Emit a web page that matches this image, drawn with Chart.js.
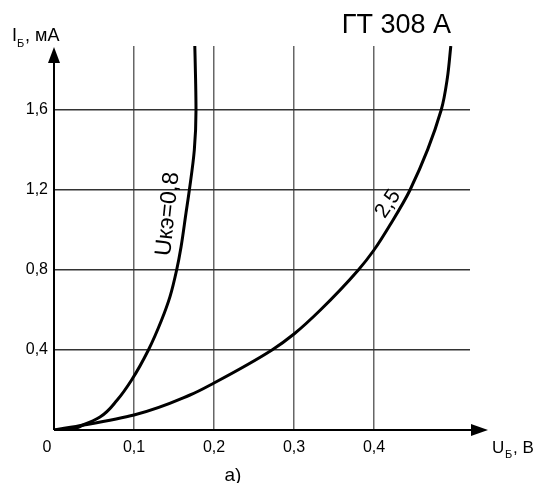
<!DOCTYPE html>
<html>
<head>
<meta charset="utf-8">
<script src="https://cdn.jsdelivr.net/npm/chart.js@4"></script>
<style>
  html, body { margin: 0; padding: 0; background: #fff; }
  #wrap { width: 537px; height: 483px; }
</style>
</head>
<body>
<div id="wrap"><canvas id="myChart" width="537" height="483"></canvas></div>
<script>
// data (U in V, I in mA)
const u08 = [0, 0.02, 0.036, 0.0575, 0.079, 0.097, 0.118, 0.1345, 0.145, 0.1533, 0.1588, 0.165, 0.1692, 0.1754, 0.1775, 0.177, 0.176];
const i08 = [0, 0.005, 0.025, 0.065, 0.15, 0.25, 0.4, 0.55, 0.667, 0.8, 0.915, 1.085, 1.2, 1.4, 1.6, 1.75, 1.92];
const u25 = [0, 0.0375, 0.1, 0.17, 0.2, 0.2725, 0.3, 0.333, 0.3804, 0.4, 0.42, 0.445, 0.484, 0.4917, 0.496];
const i25 = [0, 0.025, 0.075, 0.175, 0.235, 0.4, 0.48, 0.6, 0.8, 0.9, 1.025, 1.2, 1.6, 1.76, 1.92];
const xTicks = [0.1, 0.2, 0.3, 0.4];
const yTicks = [0.4, 0.8, 1.2, 1.6];
const curveLabels = ["Uкэ=0,8", "2,5"];

const FONT = "'Liberation Sans', Arial, sans-serif";

function pts(us, is) {
  return us.map((u, k) => ({ x: u, y: is[k] }));
}
function fmt(v) {
  return v.toFixed(1).replace(".", ",");
}

// axes with arrows, titles and curve captions
const decor = {
  id: "decor",
  afterDraw(chart) {
    const ctx = chart.ctx;
    const xs = chart.scales.x;
    const ys = chart.scales.y;
    const x0 = xs.getPixelForValue(0);
    const y0 = ys.getPixelForValue(0);
    const top = chart.chartArea.top;
    ctx.save();
    ctx.strokeStyle = "#000";
    ctx.fillStyle = "#000";
    ctx.lineWidth = 2;
    // x axis
    ctx.beginPath();
    ctx.moveTo(x0, y0);
    ctx.lineTo(474, y0);
    ctx.stroke();
    ctx.beginPath();
    ctx.moveTo(488, y0);
    ctx.lineTo(471, y0 - 6);
    ctx.lineTo(471, y0 + 6);
    ctx.closePath();
    ctx.fill();
    // y axis
    ctx.beginPath();
    ctx.moveTo(x0, y0);
    ctx.lineTo(x0, top + 14);
    ctx.stroke();
    ctx.beginPath();
    ctx.moveTo(x0, top + 1);
    ctx.lineTo(x0 - 6, top + 17);
    ctx.lineTo(x0 + 6, top + 17);
    ctx.closePath();
    ctx.fill();

    ctx.textBaseline = "alphabetic";
    // origin
    ctx.font = "16px " + FONT;
    ctx.textAlign = "center";
    ctx.fillText("0", x0 - 7, 452);
    // y title
    ctx.textAlign = "left";
    ctx.font = "18px " + FONT;
    ctx.fillText("I", 12, 41);
    ctx.font = "11px " + FONT;
    ctx.fillText("Б", 17, 47);
    ctx.font = "18px " + FONT;
    ctx.fillText(", мА", 25, 41);
    // x title
    ctx.font = "17px " + FONT;
    ctx.fillText("U", 492, 453);
    ctx.font = "11px " + FONT;
    ctx.fillText("Б", 505, 458);
    ctx.font = "17px " + FONT;
    ctx.fillText(", В", 513, 453);
    // caption below
    ctx.font = "19px " + FONT;
    ctx.textAlign = "center";
    ctx.fillText("а)", 233, 481);
    // model
    ctx.font = "27px " + FONT;
    ctx.textAlign = "right";
    ctx.fillText("ГТ 308 А", 451, 33);

    // curve captions
    ctx.textAlign = "center";
    ctx.textBaseline = "middle";
    ctx.save();
    ctx.translate(xs.getPixelForValue(0.1425), ys.getPixelForValue(1.08));
    ctx.rotate(-84 * Math.PI / 180);
    ctx.font = "23px " + FONT;
    ctx.fillText(curveLabels[0], 0, 0);
    ctx.restore();
    ctx.save();
    ctx.translate(xs.getPixelForValue(0.4175), ys.getPixelForValue(1.13));
    ctx.rotate(-56 * Math.PI / 180);
    ctx.font = "21px " + FONT;
    ctx.fillText(curveLabels[1], 0, 0);
    ctx.restore();
    ctx.restore();
  }
};

// curves are monotone in I, so interpolate along the y axis
const lineStyle = {
  borderColor: "#000",
  borderWidth: 3,
  cubicInterpolationMode: "monotone",
  pointRadius: 0,
  fill: false
};

new Chart(document.getElementById("myChart"), {
  type: "line",
  data: {
    datasets: [
      Object.assign({ data: pts(u08, i08) }, lineStyle),
      Object.assign({ data: pts(u25, i25) }, lineStyle)
    ]
  },
  options: {
    indexAxis: "y",
    responsive: false,
    animation: false,
    layout: { padding: { top: 46, right: 67, left: 0, bottom: 0 } },
    plugins: { legend: { display: false }, tooltip: { enabled: false } },
    scales: {
      x: {
        type: "linear",
        position: "bottom",
        min: 0,
        max: 0.52,
        afterFit(s) { s.height = 53; },
        afterBuildTicks(s) { s.ticks = xTicks.map(v => ({ value: v })); },
        border: { display: false },
        grid: { color: "#666", lineWidth: 1.5, drawTicks: false },
        ticks: {
          color: "#000",
          padding: 8,
          maxRotation: 0,
          font: { family: FONT, size: 16 },
          callback: v => fmt(v)
        }
      },
      y: {
        type: "linear",
        position: "left",
        min: 0,
        max: 1.92,
        afterFit(s) { s.width = 54; },
        afterBuildTicks(s) { s.ticks = yTicks.map(v => ({ value: v })); },
        border: { display: false },
        grid: { color: "#333", lineWidth: 1.5, drawTicks: false },
        ticks: {
          color: "#000",
          padding: 6,
          font: { family: FONT, size: 16 },
          callback: v => fmt(v)
        }
      }
    }
  },
  plugins: [decor]
});
</script>
</body>
</html>
